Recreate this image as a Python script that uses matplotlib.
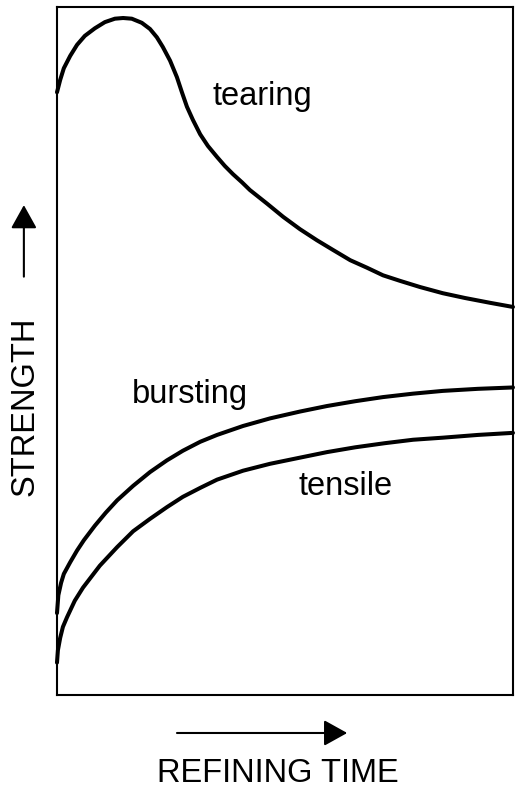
import matplotlib
matplotlib.use("Agg")
from matplotlib import pyplot as plt
from matplotlib.patches import FancyArrowPatch

plt.rcParams['font.family'] = ['Liberation Sans', 'DejaVu Sans']

# curves, x and y as fraction of the frame
tear_x = [0, 0.007, 0.015, 0.029, 0.044, 0.061, 0.083, 0.105, 0.127, 0.145,
          0.164, 0.186, 0.204, 0.219, 0.232, 0.248, 0.263, 0.274, 0.285, 0.298,
          0.314, 0.331, 0.351, 0.368, 0.386, 0.406, 0.423, 0.461, 0.496, 0.533,
          0.570, 0.605, 0.643, 0.680, 0.715, 0.752, 0.796, 0.846, 0.895, 0.950, 1.0]
tear_y = [0.876, 0.894, 0.911, 0.929, 0.945, 0.958, 0.969, 0.978, 0.983, 0.984,
          0.983, 0.977, 0.968, 0.956, 0.942, 0.922, 0.898, 0.876, 0.855, 0.836,
          0.815, 0.798, 0.782, 0.769, 0.757, 0.745, 0.734, 0.714, 0.695, 0.677,
          0.661, 0.647, 0.632, 0.621, 0.610, 0.602, 0.593, 0.584, 0.577, 0.570, 0.564]

burst_x = [0, 0.003, 0.009, 0.015, 0.029, 0.044, 0.059, 0.083, 0.107, 0.132,
           0.167, 0.204, 0.241, 0.276, 0.314, 0.351, 0.408, 0.467, 0.533, 0.592,
           0.654, 0.715, 0.781, 0.846, 0.923, 1.0]
burst_y = [0.119, 0.145, 0.163, 0.176, 0.193, 0.210, 0.225, 0.246, 0.265, 0.283,
           0.304, 0.324, 0.341, 0.355, 0.368, 0.378, 0.391, 0.402, 0.412, 0.420,
           0.427, 0.433, 0.438, 0.442, 0.445, 0.447]

tens_x = [0, 0.002, 0.007, 0.013, 0.022, 0.039, 0.057, 0.094, 0.132, 0.167,
          0.204, 0.241, 0.276, 0.314, 0.351, 0.408, 0.467, 0.533, 0.592, 0.654,
          0.719, 0.781, 0.846, 0.923, 1.0]
tens_y = [0.047, 0.065, 0.083, 0.099, 0.113, 0.137, 0.156, 0.188, 0.215, 0.238,
          0.256, 0.273, 0.288, 0.301, 0.313, 0.326, 0.336, 0.345, 0.353, 0.360,
          0.366, 0.371, 0.374, 0.378, 0.381]

labels = ['tearing', 'bursting', 'tensile']
label_pos = [(0.342, 0.858), (0.164, 0.424), (0.529, 0.291)]

FS = 23.5
LW = 2.9

fig = plt.figure(figsize=(5.19, 7.95), dpi=100)
ax = fig.add_axes([0.1098, 0.1258, 0.8786, 0.8654])
ax.set_xlim(0, 1)
ax.set_ylim(0, 1)
ax.set_xticks([])
ax.set_yticks([])
for s in ax.spines.values():
    s.set_linewidth(1.5)

for xs, ys in [(tear_x, tear_y), (burst_x, burst_y), (tens_x, tens_y)]:
    ax.plot(xs, ys, color='black', lw=LW, solid_capstyle='round',
            solid_joinstyle='round', clip_on=False)

for lab, (lx, ly) in zip(labels, label_pos):
    ax.text(lx, ly, lab, fontsize=FS, ha='left', va='baseline')

# axis captions with arrows, outside the frame
fig.text(0.048, 0.489, 'STRENGTH', rotation=90, fontsize=FS, ha='center', va='center')
fig.text(0.535, 0.0164, 'REFINING TIME', fontsize=FS, ha='center', va='baseline')

arrow_kw = dict(transform=fig.transFigure, arrowstyle='-|>,head_length=0.72,head_width=0.4',
                mutation_scale=20, lw=1.5, color='black', shrinkA=0, shrinkB=0)
fig.add_artist(FancyArrowPatch((0.046, 0.652), (0.046, 0.742), **arrow_kw))
fig.add_artist(FancyArrowPatch((0.341, 0.078), (0.669, 0.078), **arrow_kw))

fig.savefig('out.png', dpi=100)
